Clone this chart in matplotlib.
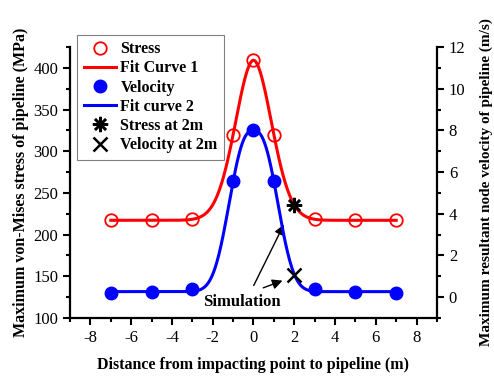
import numpy as np
import matplotlib
matplotlib.use('Agg')
import matplotlib.pyplot as plt
from matplotlib.ticker import MultipleLocator

plt.rcParams['font.family'] = ['Liberation Serif', 'DejaVu Serif']
plt.rcParams['axes.unicode_minus'] = False

# data
distance = [-7, -5, -3, -1, 0, 1, 3, 5, 7]
stress = [217, 217, 219, 320, 409, 320, 219, 217, 217]
velocity = [0.18, 0.25, 0.40, 5.55, 8.0, 5.55, 0.40, 0.25, 0.18]
check_x = [2]
stress_at_2m = [235]
velocity_at_2m = [1.05]


def fit_peak(x, y):
    # y0 + A*exp(-(|x|/w)^p), grid search on w and p, least squares for y0, A
    x = np.asarray(x, float)
    y = np.asarray(y, float)
    best = None
    for w in np.linspace(0.5, 3.0, 126):
        for p in np.linspace(1.5, 4.0, 51):
            g = np.exp(-(np.abs(x) / w) ** p)
            M = np.column_stack([np.ones_like(g), g])
            coef, *_ = np.linalg.lstsq(M, y, rcond=None)
            err = np.sum((M @ coef - y) ** 2)
            if best is None or err < best[0]:
                best = (err, w, p, coef)
    _, w, p, (y0, a) = best
    return lambda t: y0 + a * np.exp(-(np.abs(t) / w) ** p)


fit1 = fit_peak(distance + check_x, stress + stress_at_2m)
fit2 = fit_peak(distance + check_x, velocity + velocity_at_2m)
xs = np.linspace(-7, 7, 400)

fig = plt.figure(figsize=(4.94, 3.78), dpi=100)
ax = fig.add_axes([0.1417, 0.1587, 0.7429, 0.717])
ax2 = ax.twinx()

l1, = ax.plot(distance, stress, 'o', mfc='none', mec='red', mew=1.3, ms=9, label='Stress')
l2, = ax.plot(xs, fit1(xs), '-', color='red', lw=2.2, label='Fit Curve 1')
l5, = ax.plot(check_x, stress_at_2m, ls='none', marker=(8, 2, 0), color='black',
              ms=11, mew=1.8, label='Stress at 2m')
l3, = ax2.plot(distance, velocity, 'o', color='blue', ms=9, label='Velocity')
l4, = ax2.plot(xs, fit2(xs), '-', color='blue', lw=2.2, label='Fit curve 2')
l6, = ax2.plot(check_x, velocity_at_2m, ls='none', marker='x', color='black',
               ms=10, mew=1.8, label='Velocity at 2m')

ax.set_xlim(-9, 9)
ax.set_ylim(100, 425)
ax2.set_ylim(-1, 12)
ax.xaxis.set_major_locator(MultipleLocator(2))
ax.xaxis.set_minor_locator(MultipleLocator(1))
ax.yaxis.set_major_locator(MultipleLocator(50))
ax.yaxis.set_minor_locator(MultipleLocator(25))
ax2.yaxis.set_major_locator(MultipleLocator(2))
ax2.yaxis.set_minor_locator(MultipleLocator(1))

for a in (ax, ax2):
    a.spines['top'].set_visible(False)
    for s in a.spines.values():
        s.set_linewidth(1.6)
    a.tick_params(which='major', direction='out', length=5, width=1.5, labelsize=12)
    a.tick_params(which='minor', direction='out', length=3, width=1.5)
ax.spines['right'].set_visible(False)
ax2.spines['left'].set_visible(False)
ax2.spines['bottom'].set_visible(False)

ax.set_xlabel('Distance from impacting point to pipeline (m)', fontsize=11.5,
              fontweight='bold', labelpad=8)
ax.set_ylabel('Maximum von-Mises stress of pipeline (MPa)', fontsize=11.5,
              fontweight='bold', labelpad=3)
ax2.set_ylabel('Maximum resultant node velocity of pipeline (m/s)', fontsize=11,
               fontweight='bold', labelpad=10)

arrow = dict(arrowstyle='-|>', color='black', lw=1.0, mutation_scale=15)
ax.annotate('', xy=(1.55, 215), xytext=(-0.05, 136), arrowprops=arrow)
ax.annotate('', xy=(1.55, 146), xytext=(0.35, 135), arrowprops=arrow)
ax.text(-0.55, 119, 'Simulation', fontsize=12, fontweight='bold', ha='center', va='center')

leg = ax.legend(handles=[l1, l2, l3, l4, l5, l6], loc='upper left',
                bbox_to_anchor=(0.02, 1.045), prop={'weight': 'bold', 'size': 11.5},
                fancybox=False, edgecolor='gray', framealpha=1, handlelength=2.0,
                labelspacing=0.2, borderpad=0.4, handletextpad=0.3, borderaxespad=0)
leg.get_frame().set_linewidth(0.8)
leg.set_zorder(5)

fig.savefig('out.png', dpi=100)
